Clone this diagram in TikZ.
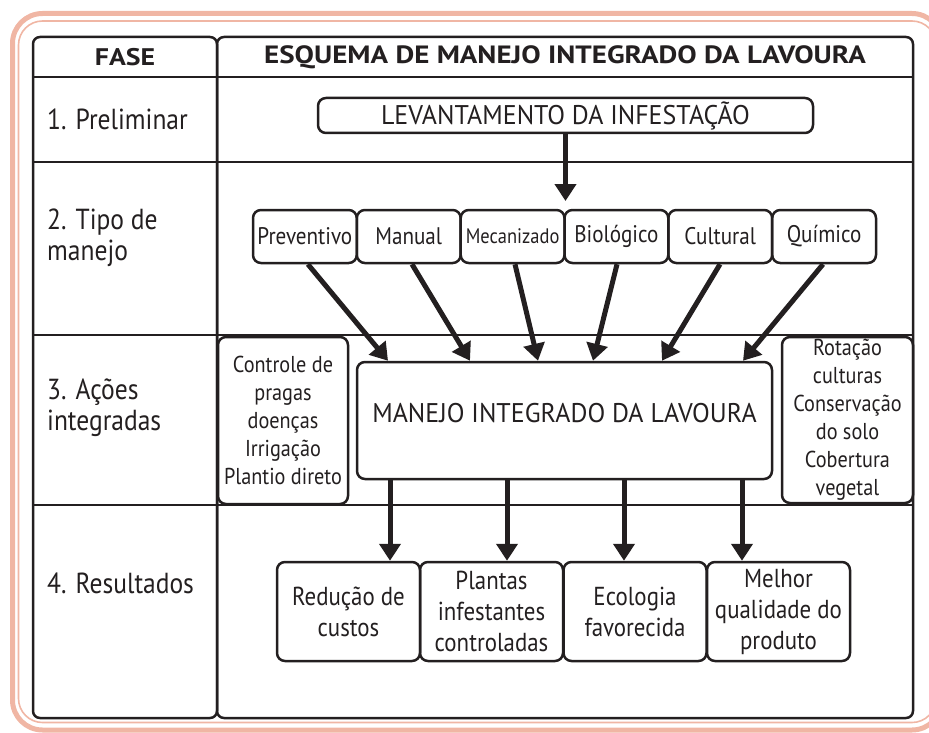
\documentclass[tikz,border=0pt]{standalone}
\usepackage{fontspec}
\setmainfont{PT Sans}[FakeStretch=0.88]
\newfontfamily\hdfont{PT Sans}[FakeStretch=1.16]
\newfontfamily\capfont{PT Sans}[FakeStretch=0.96]
\usetikzlibrary{arrows.meta}
\definecolor{ink}{HTML}{231F20}
\definecolor{pinkf}{RGB}{240,182,164}
\tikzset{
  box/.style={draw=ink, line width=2.5pt, rounded corners=8pt, align=center, inner sep=0pt, text=ink},
  arr/.style={draw=ink, line width=5pt, -{Triangle[width=21pt,length=17pt]}},
  lbl/.style={anchor=west, align=left, text=ink, inner sep=0pt, font=\fontsize{29}{31}\selectfont},
  hd/.style={text=ink, inner sep=0pt, font=\hdfont\bfseries\fontsize{25}{28}\selectfont},
  grid/.style={draw=ink, line width=2.5pt},
  tipo/.style={box, minimum width=103.8pt, minimum height=53pt, font=\fontsize{24}{28}\selectfont},
  res/.style={box, minimum width=143pt, minimum height=99pt, font=\fontsize{26}{31}\selectfont},
  side/.style={box, minimum width=130pt, minimum height=167pt, font=\fontsize{23}{28}\selectfont},
}
\begin{document}
\begin{tikzpicture}[x=1pt,y=-1pt]
\useasboundingbox (0,0) rectangle (929,733);
% pink frame
\begin{scope}
\clip (0,0) rectangle (929,733);
\draw[pinkf, line width=5pt, rounded corners=30pt] (12.5,13.5) rectangle (942,730);
\draw[pinkf, line width=1.6pt, rounded corners=24pt] (18.5,21) rectangle (936,722.5);
\end{scope}
% table
\draw[grid, rounded corners=7pt] (33,37) rectangle (217,718);
\draw[grid, rounded corners=7pt] (217,37) rectangle (913,718);
\draw[grid] (33,77) -- (913,77);
\draw[grid] (33,162) -- (913,162);
\draw[grid] (33,335) -- (913,335);
\draw[grid] (33,505) -- (913,505);
% header
\node[hd, font=\hdfont\bfseries\fontsize{24}{28}\selectfont] (fase) at (125,57) {FASE};
\node[hd] (esq) at (565,57) {ESQUEMA DE MANEJO INTEGRADO DA LAVOURA};
% phase labels
\node[lbl] (p1) at (47,119) {1. Preliminar};
\node[lbl] (p2) at (47,238) {2. Tipo de\\manejo};
\node[lbl] (p3) at (47,408) {3. Ações\\integradas};
\node[lbl] (p4) at (47,583) {4. Resultados};
% boxes
\node[box, minimum width=495pt, minimum height=35pt, font=\capfont\fontsize{27}{29}\selectfont] (lev) at (565.5,115.5) {LEVANTAMENTO DA INFESTAÇÃO};
\node[tipo] (prev) at (304.9,236.5) {Preventivo};
\node[tipo] (man) at (408.75,236.5) {Manual};
\node[tipo, font=\fontsize{21}{24}\selectfont] (mec) at (512.6,236.5) {Mecanizado};
\node[tipo] (bio) at (616.4,236.5) {Biológico};
\node[tipo] (cul) at (720.25,236.5) {Cultural};
\node[tipo] (qui) at (824.1,236.5) {Químico};
\node[box, minimum width=415pt, minimum height=117pt] (mil) at (564.5,420.5) {};
\node[text=ink, inner sep=0pt, font=\capfont\fontsize{27}{30}\selectfont] (milt) at (564.5,413) {MANEJO INTEGRADO DA LAVOURA};
\node[side] (ctrl) at (283,420.5) {Controle de\\pragas\\doenças\\Irrigação\\Plantio direto};
\node[side, minimum width=131pt, minimum height=166pt] (rot) at (847.5,420) {Rotação\\culturas\\Conservação\\do solo\\Cobertura\\vegetal};
\node[res] (r1) at (348.5,611.5) {Redução de\\custos};
\node[res] (r2) at (491.5,611.5) {Plantas\\infestantes\\controladas};
\node[res] (r3) at (635,611.5) {Ecologia\\favorecida};
\node[res] (r4) at (778.5,611.5) {Melhor\\qualidade do\\produto};
% arrows
\coordinate (levtip) at (565.5,201);
\draw[arr] (lev.south) -- (levtip);
\draw[arr] ([xshift=3pt]prev.south) -- ([xshift=-176.5pt]mil.north);
\draw[arr] ([xshift=3.25pt]man.south) -- ([xshift=-94.5pt]mil.north);
\draw[arr] ([xshift=2.4pt]mec.south) -- ([xshift=-26.5pt]mil.north);
\draw[arr] ([xshift=0.6pt]bio.south) -- ([xshift=28.5pt]mil.north);
\draw[arr] ([xshift=-0.25pt]cul.south) -- ([xshift=97.5pt]mil.north);
\draw[arr] ([xshift=-1.1pt]qui.south) -- ([xshift=178.5pt]mil.north);
\coordinate (t1) at ([xshift=41.5pt]r1.north);
\coordinate (t2) at ([xshift=15.5pt]r2.north);
\coordinate (t3) at ([xshift=-11pt]r3.north);
\coordinate (t4) at ([xshift=-36.5pt]r4.north);
\draw[arr] (mil.south -| t1) -- (t1);
\draw[arr] (mil.south -| t2) -- (t2);
\draw[arr] (mil.south -| t3) -- (t3);
\draw[arr] (mil.south -| t4) -- (t4);
\end{tikzpicture}
\end{document}
